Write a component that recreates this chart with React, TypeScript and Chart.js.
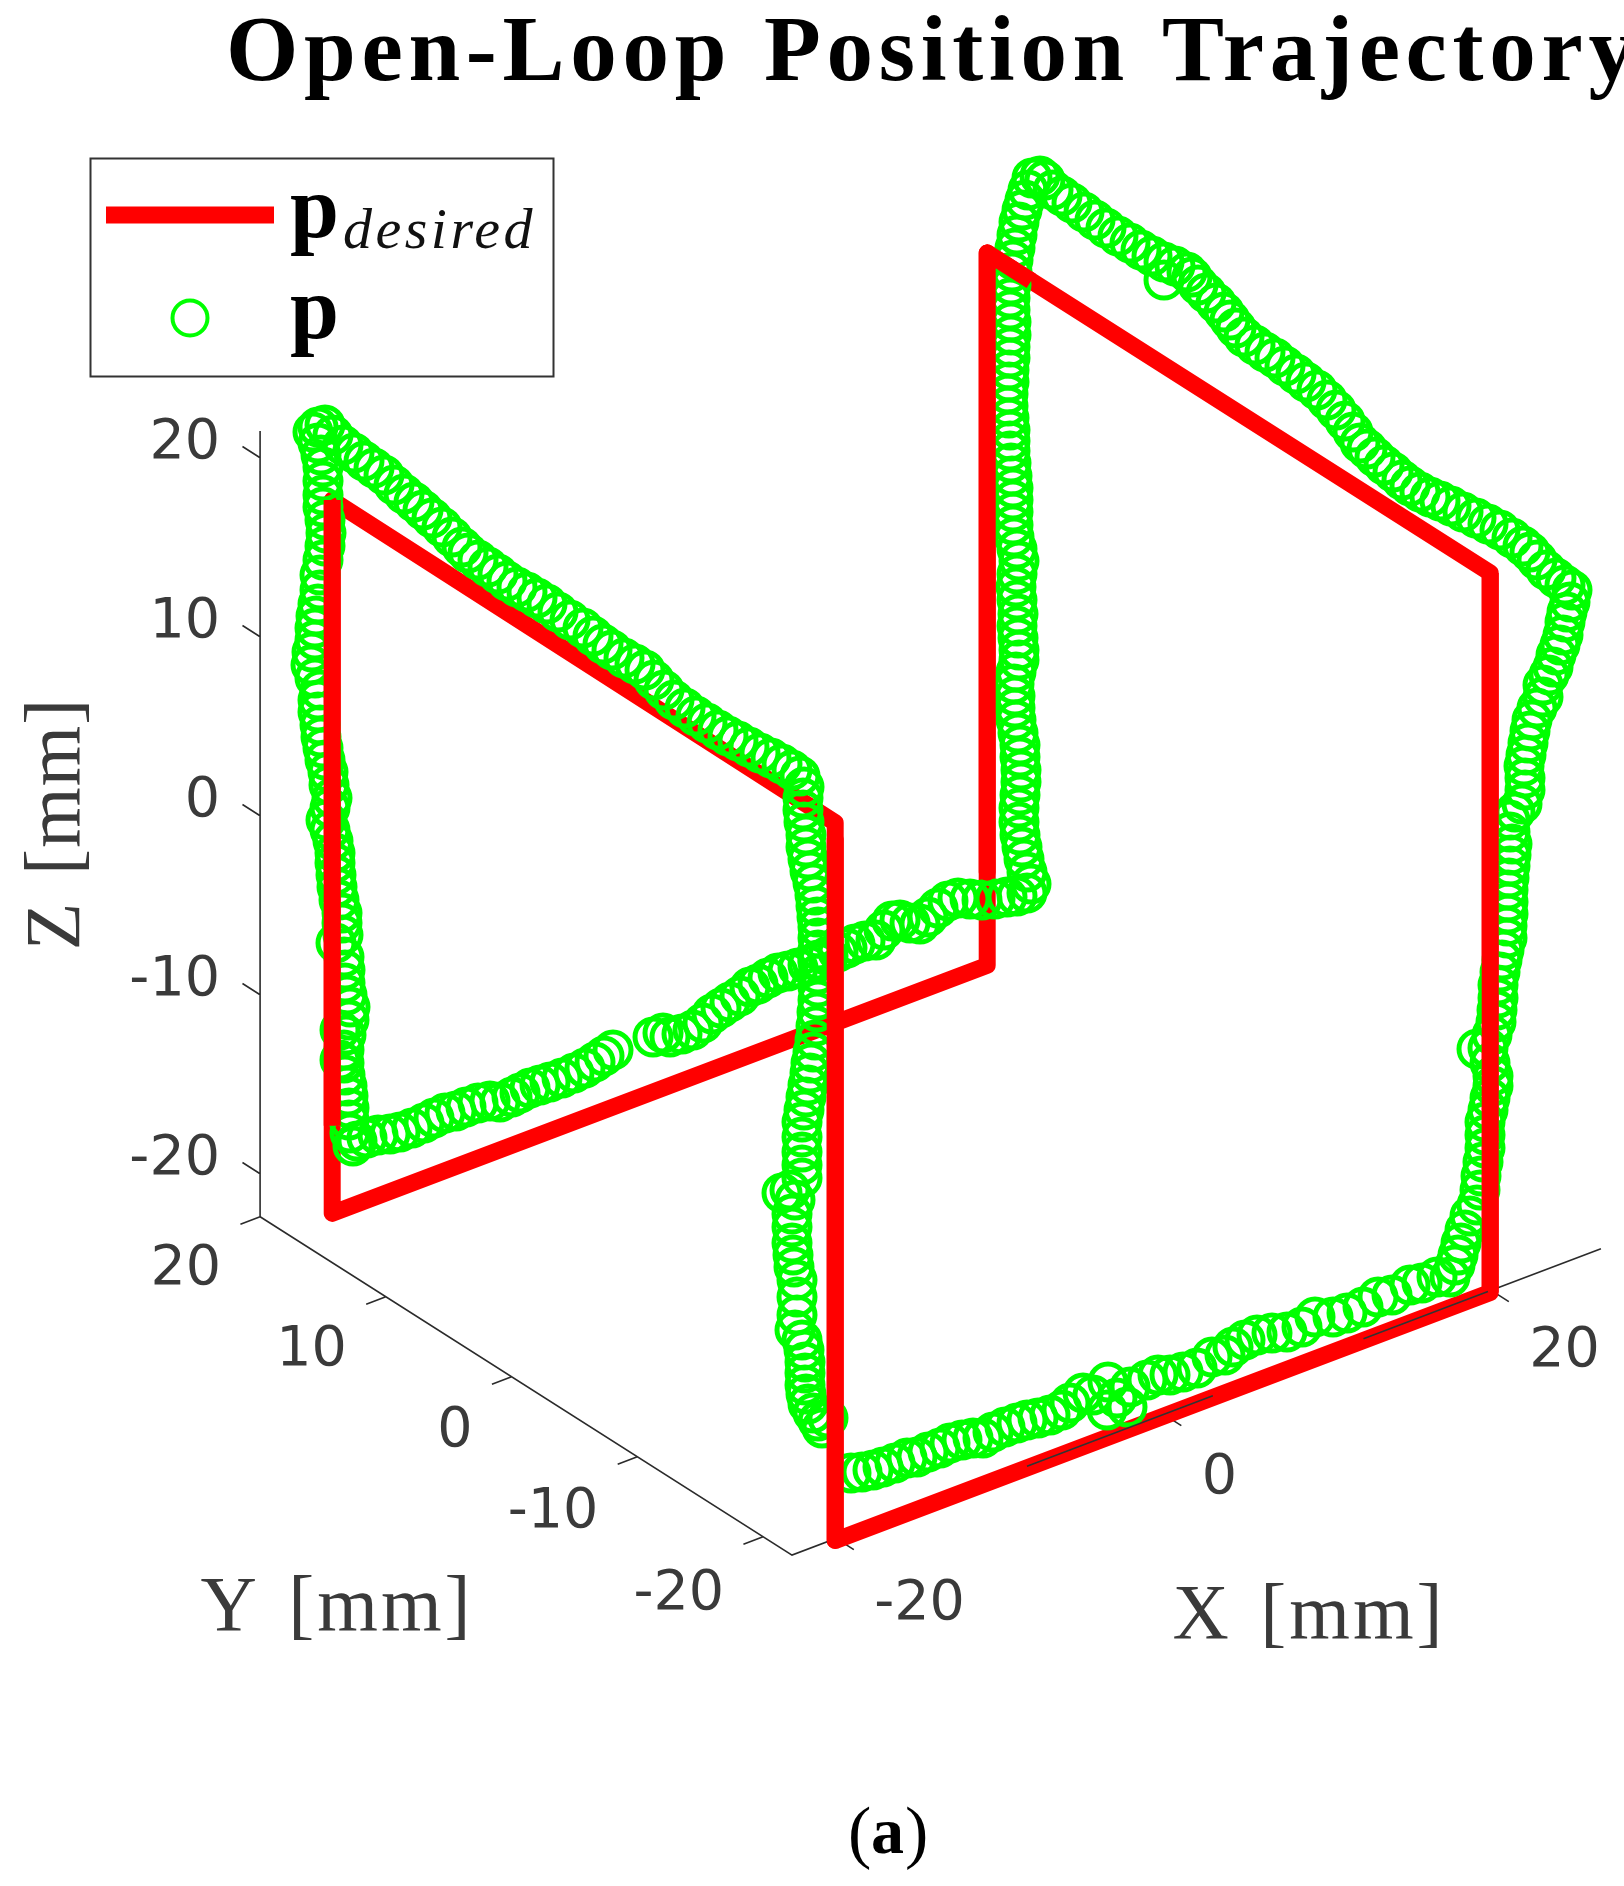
import React, { useEffect, useRef } from "react";
import { Chart, registerables } from "chart.js";

Chart.register(...registerables);

const WIDTH = 1624;
const HEIGHT = 1886;

// Desired trajectory corners, in mm (X, Y, Z)
const desiredCorners: number[][] = [
  [-20.6, -23, -22], [19.4, -23, -22], [19.4, -23, 18.2], [19.4, 17, 18.2],
  [19.4, 17, -21.6], [-20.6, 17, -21.6], [-20.6, 17, 18.25], [-20.6, -23, 18.1], [-20.6, -23, -22],
];
// Parts of the desired path that are rendered in front of the measured circles
const desiredFrontParts: number[][][] = [
  [[-20.6, 17, -16.7], [-20.6, 17, 18.25]],
  [[-20.6, -23, 17.2], [-20.6, -23, -22]],
  [[19.4, -23, -22], [19.4, -23, 18.2]],
  [[19.4, 13.5, 18.2], [19.4, 17, 18.2], [19.4, 17, -16.4]],
];

const xTicks = [-20, 0, 20];
const yTicks = [20, 10, 0, -10, -20];
const zTicks = [20, 10, 0, -10, -20];
const boxMin = [-22.7, -22.3, -22.4];
const boxMax = [26.7, 20, 21.5];
const xAxisFrontParts = [[-8.35, 3.0], [12.2, 19.8]];

// Measured circles, read on the picture's view plane
const greenBottomFront = [
  [851,1473],[862,1472],[873,1470],[883,1467],[895,1463],[907,1458],[917,1457],[928,1452],[940,1448],[950,1443],[962,1440],[973,1438],[983,1438],[993,1432],[1005,1427],[1017,1423],[1027,1420],[1038,1418],[1050,1415],[1062,1410],[1070,1403],[1083,1393],[1093,1395],[1108,1382],[1107,1410],[1127,1407],[1117,1398],[1130,1387],[1147,1380],[1158,1375],[1170,1375],[1183,1372],[1197,1368],[1212,1357],[1225,1355],[1233,1347],[1245,1340],[1257,1335],[1272,1333],[1287,1332],[1302,1327],[1315,1317],[1333,1317],[1347,1313],[1363,1307],[1378,1297],[1392,1295],[1410,1285],[1422,1283],[1437,1277],[1450,1277],
];
const greenRightEdge = [
  [1455,1265],[1458,1255],[1461,1243],[1465,1230],[1470,1216],[1477,1205],[1480,1190],[1481,1176],[1483,1162],[1485,1148],[1485,1135],[1485,1122],[1488,1110],[1490,1098],[1493,1086],[1493,1076],[1490,1063],[1477,1049],[1488,1048],[1492,1035],[1496,1022],[1497,1010],[1498,998],[1498,985],[1500,972],[1502,960],[1504,950],[1507,938],[1507,926],[1508,914],[1508,902],[1508,890],[1509,878],[1510,866],[1511,855],[1512,844],[1510,832],[1510,820],[1515,812],[1522,804],[1525,790],[1525,778],[1524,766],[1526,755],[1528,743],[1530,731],[1532,720],[1537,708],[1543,697],[1543,685],[1549,675],[1553,667],[1556,655],[1560,645],[1563,635],[1565,622],[1567,612],[1570,602],[1572,590],
];
const greenTopRight = [
  [1565,585],[1556,578],[1546,570],[1537,560],[1530,552],[1523,546],[1512,538],[1500,530],[1488,524],[1476,518],[1463,512],[1451,506],[1440,501],[1430,497],[1420,492],[1410,486],[1402,480],[1393,472],[1384,465],[1375,457],[1367,449],[1360,443],[1353,432],[1345,421],[1336,410],[1327,400],[1317,390],[1306,382],[1296,374],[1285,366],[1275,358],[1265,352],[1255,345],[1244,337],[1236,328],[1230,320],[1224,312],[1216,303],[1206,293],[1198,285],[1192,277],[1187,272],[1175,266],[1164,280],[1164,262],[1152,256],[1141,250],[1130,243],[1118,236],[1106,228],[1095,220],[1084,212],[1072,203],[1062,196],[1053,190],[1045,180],[1040,176],
];
const greenBackEdge = [
  [1032,178],[1028,190],[1025,200],[1022,210],[1019,222],[1017,235],[1015,248],[1013,260],[1012,272],[1011,285],[1010,298],[1010,310],[1011,322],[1011,335],[1010,347],[1010,358],[1009,370],[1009,382],[1008,394],[1008,406],[1009,418],[1010,430],[1010,441],[1010,451],[1011,463],[1012,476],[1013,488],[1013,500],[1013,512],[1013,525],[1014,537],[1017,549],[1019,561],[1017,574],[1016,587],[1017,600],[1018,614],[1017,626],[1018,638],[1019,650],[1019,660],[1016,672],[1014,684],[1015,696],[1015,708],[1016,720],[1018,733],[1020,745],[1020,757],[1021,770],[1021,782],[1020,795],[1019,808],[1019,822],[1020,835],[1022,847],[1024,859],[1027,872],[1031,884],[1027,893],
];
const greenBackBottom = [
  [1017,896],[1007,897],[995,899],[982,900],[970,899],[958,898],[948,901],[938,908],[928,917],[920,924],[910,923],[900,920],[892,921],[884,930],[876,940],[865,941],[855,944],[847,948],[838,952],[828,956],[818,960],[808,965],[798,968],[788,971],[778,973],[768,978],[758,984],[750,987],[740,996],[730,1002],[721,1008],[712,1014],[703,1023],[693,1030],[682,1034],[670,1037],[663,1033],[653,1037],[613,1050],[604,1056],[595,1062],[585,1068],[574,1073],[562,1078],[550,1082],[540,1085],[530,1088],[520,1093],[512,1097],[500,1102],[490,1101],[478,1103],[466,1107],[456,1111],[445,1113],[434,1118],[424,1123],[412,1128],[400,1132],[390,1134],[378,1135],[367,1138],[357,1141],[353,1146],
];
const greenLeftEdge = [
  [350,1133],[349,1120],[349,1108],[348,1096],[347,1086],[345,1075],[344,1063],[340,1060],[344,1050],[340,1030],[346,1035],[349,1020],[350,1007],[347,995],[345,983],[345,970],[344,957],[336,943],[343,935],[342,923],[342,913],[339,900],[337,887],[336,875],[335,863],[335,853],[333,841],[330,830],[326,820],[330,808],[332,798],[329,785],[328,772],[325,760],[323,748],[321,737],[320,725],[318,712],[318,700],[320,690],[315,678],[311,665],[312,652],[315,640],[315,628],[316,616],[318,604],[320,590],[320,575],[323,560],[325,546],[326,533],[325,520],[323,507],[323,495],[323,481],[323,467],[321,455],[318,443],[313,432],[318,427],[325,425],
];
const greenTopLeft = [
  [333,435],[343,445],[354,453],[364,461],[374,468],[384,475],[394,485],[404,494],[414,502],[423,510],[432,518],[442,527],[452,537],[462,547],[468,553],[478,560],[488,567],[498,574],[507,581],[517,587],[527,592],[537,598],[547,604],[558,612],[570,620],[583,628],[593,636],[603,644],[612,650],[624,658],[635,664],[645,670],[654,680],[664,690],[674,700],[685,708],[696,716],[707,723],[718,730],[728,736],[738,741],[749,747],[760,753],[771,758],[782,764],[792,770],[800,776],[804,787],[803,798],[803,810],[804,822],[806,835],
];
const greenFrontEdge = [
  [806,847],[808,859],[810,871],[813,883],[815,895],[816,906],[817,917],[818,927],[818,938],[818,950],[818,962],[818,974],[818,987],[818,1000],[817,1012],[816,1026],[815,1040],[813,1052],[811,1063],[810,1073],[808,1085],[806,1097],[804,1110],[802,1122],[802,1137],[802,1152],[802,1165],[802,1178],[790,1190],[782,1193],[795,1200],[792,1214],[792,1227],[792,1243],[793,1255],[794,1267],[797,1280],[797,1297],[797,1315],[795,1330],[802,1340],[804,1350],[805,1362],[805,1373],[805,1385],[806,1394],[808,1404],[813,1413],[818,1421],[828,1418],[822,1428],
];

const project = (X: number, Y: number, Z: number) => ({
  x: 883.3 + 16.375 * X - 12.575 * Y,
  y: 835 - 6.2 * X - 8 * Y - 17.9 * Z,
});

const GAP = { x: NaN, y: NaN };

function axisPoints() {
  const [x0, y0, z0] = boxMin;
  const [x1, y1, z1] = boxMax;
  const pts: { x: number; y: number }[] = [
    project(x0, y1, z1), project(x0, y1, z0), project(x0, y0, z0), project(x1, y0, z0), GAP,
  ];
  zTicks.forEach((z) => pts.push(project(x0, y1, z), project(x0, y1 + 1.4, z), GAP));
  yTicks.forEach((y) => pts.push(project(x0, y, z0), project(x0 - 1.2, y, z0), GAP));
  xTicks.forEach((x) => pts.push(project(x, y0, z0), project(x, y0 - 1.4, z0), GAP));
  return pts;
}

const textPlugin = {
  id: "texts",
  afterDraw(chart: any) {
    const ctx = chart.ctx as CanvasRenderingContext2D & { letterSpacing: string; wordSpacing: string };
    const sx = chart.scales.x;
    const sy = chart.scales.y;
    const put = (
      s: string, x: number, y: number, font: string, color: string,
      align: CanvasTextAlign = "left", base: CanvasTextBaseline = "alphabetic", spacing = "0px", word = "0px", rot = 0,
    ) => {
      ctx.save();
      ctx.font = font;
      ctx.fillStyle = color;
      ctx.textAlign = align;
      ctx.textBaseline = base;
      ctx.letterSpacing = spacing;
      ctx.wordSpacing = word;
      ctx.translate(sx.getPixelForValue(x), sy.getPixelForValue(y));
      if (rot) ctx.rotate(rot);
      ctx.fillText(s, 0, 0);
      ctx.restore();
    };
    const serif = '"Liberation Serif", serif';
    const sans = '"DejaVu Sans", sans-serif';
    const ink = "#3a3a3a";

    put("Open-Loop Position Trajectory", 226, 80, `bold 93px ${serif}`, "#000", "left", "alphabetic", "5.7px", "3px");

    // Legend
    ctx.save();
    ctx.strokeStyle = "#333";
    ctx.lineWidth = 2;
    ctx.strokeRect(90.5, 158.5, 463, 218);
    ctx.strokeStyle = "#ff0000";
    ctx.lineWidth = 17;
    ctx.beginPath();
    ctx.moveTo(106, 215);
    ctx.lineTo(274, 215);
    ctx.stroke();
    ctx.strokeStyle = "#00ff00";
    ctx.lineWidth = 4;
    ctx.beginPath();
    ctx.arc(190, 318, 17.5, 0, Math.PI * 2);
    ctx.stroke();
    ctx.restore();
    put("p", 290, 237, `bold 88px ${serif}`, "#000");
    put("desired", 343, 248, `italic 58px ${serif}`, "#111", "left", "alphabetic", "3.5px");
    put("p", 290, 338, `bold 88px ${serif}`, "#000");

    // Tick labels
    const tickFont = `55.5px ${sans}`;
    zTicks.forEach((z) => {
      const p = project(boxMin[0], boxMax[1], z);
      put(String(z), 220, p.y - 14, tickFont, ink, "right", "middle");
    });
    yTicks.forEach((y) => {
      const p = project(boxMin[0], y, boxMin[2]);
      put(String(y), p.x - 39, p.y + 55 - 0.12 * y, tickFont, ink, "right", "middle");
    });
    xTicks.forEach((x) => {
      const p = project(x, boxMin[1], boxMin[2]);
      put(String(x), p.x + 38, p.y + 64 - 0.12 * x, tickFont, ink, "left", "middle");
    });

    // Axis titles
    const labelFont = `78px ${serif}`;
    put("X [mm]", 1309, 1618, labelFont, ink, "center", "middle", "3px", "6px");
    put("Y [mm]", 337, 1610, labelFont, ink, "center", "middle", "3px", "6px");
    put("Z [mm]", 59, 824, labelFont, ink, "center", "middle", "1px", "6px", -Math.PI / 2);

    // Sub-figure label
    put("(", 848, 1855, `70px ${serif}`, "#000");
    put("a", 871, 1853, `bold 66px ${serif}`, "#000");
    put(")", 905, 1855, `70px ${serif}`, "#000");
  },
};

export default function App() {
  const ref = useRef<HTMLCanvasElement>(null);

  useEffect(() => {
    if (!ref.current) return;
    const toPoints = (list: number[][]) => list.map(([x, y]) => ({ x, y }));
    const green = toPoints([
      ...greenBottomFront, ...greenRightEdge, ...greenTopRight, ...greenBackEdge,
      ...greenBackBottom, ...greenLeftEdge, ...greenTopLeft, ...greenFrontEdge,
    ]);
    const red = desiredCorners.map(([X, Y, Z]) => project(X, Y, Z));
    const redFront: { x: number; y: number }[] = [];
    desiredFrontParts.forEach((part) => {
      part.forEach(([X, Y, Z]) => redFront.push(project(X, Y, Z)));
      redFront.push(GAP);
    });
    const axisFront: { x: number; y: number }[] = [];
    xAxisFrontParts.forEach(([a, b]) => {
      axisFront.push(project(a, boxMin[1], boxMin[2]), project(b, boxMin[1], boxMin[2]), GAP);
    });
    const lineBase = { showLine: true, pointRadius: 0, fill: false, tension: 0, spanGaps: false };

    const chart = new Chart(ref.current, {
      type: "scatter",
      data: {
        datasets: [
          { ...lineBase, label: "axes", data: axisPoints(), borderColor: "#2b2b2b", borderWidth: 1.6, order: 5 },
          { ...lineBase, label: "pdesired", data: red, borderColor: "#ff0000", borderWidth: 17, borderJoinStyle: "round", order: 4 },
          { label: "p", data: green, showLine: false, pointRadius: 18, pointBorderWidth: 5, pointBorderColor: "#00ff00", pointBackgroundColor: "rgba(0,0,0,0)", order: 3 },
          { ...lineBase, label: "pdesired front", data: redFront, borderColor: "#ff0000", borderWidth: 17, borderJoinStyle: "round", order: 2 },
          { ...lineBase, label: "x axis front", data: axisFront, borderColor: "#333333", borderWidth: 1.6, order: 1 },
        ] as any,
      },
      options: {
        animation: false,
        responsive: false,
        devicePixelRatio: 1,
        events: [],
        layout: { padding: 0, autoPadding: false },
        plugins: { legend: { display: false }, title: { display: false }, tooltip: { enabled: false } },
        scales: {
          x: { type: "linear", display: false, min: 0, max: WIDTH },
          y: { type: "linear", display: false, min: 0, max: HEIGHT, reverse: true },
        },
      },
      plugins: [textPlugin],
    });
    return () => chart.destroy();
  }, []);

  return (
    <div style={{ position: "absolute", left: 0, top: 0, width: WIDTH, height: HEIGHT, background: "#fff", overflow: "hidden" }}>
      <canvas ref={ref} width={WIDTH} height={HEIGHT} style={{ display: "block", width: WIDTH, height: HEIGHT }} />
    </div>
  );
}
